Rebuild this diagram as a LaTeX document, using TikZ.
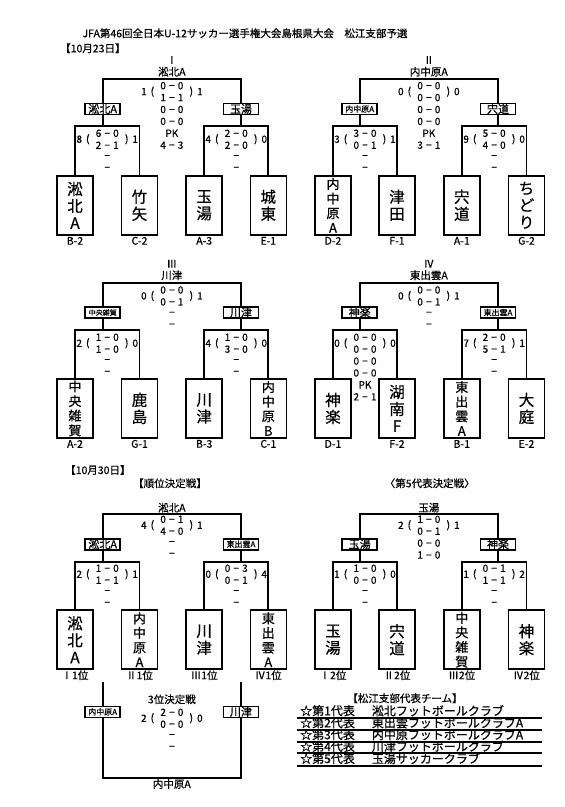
\documentclass[tikz,border=0pt]{standalone}
\usepackage{fontspec}
\setmainfont{Noto Sans CJK JP}[UprightFeatures={FakeBold=0.6}]
\tikzset{
  br/.style={line width=1.7pt},
  sbox/.style={draw,line width=1.6pt,minimum width=35pt,minimum height=11pt,inner sep=0pt},
  sbig/.style={sbox,font=\fontsize{11}{12}\selectfont},
  ssm/.style={sbox,font=\fontsize{8}{9}\selectfont},
  sxs/.style={sbox,font=\fontsize{7}{8}\selectfont},
  teambox/.style={draw,line width=1.6pt,minimum width=36pt,minimum height=59pt,inner sep=0pt,align=center},
  t3/.style={teambox,font=\fontsize{15.5}{17}\selectfont},
  t4/.style={teambox,font=\fontsize{13}{14.6}\selectfont},
  sc/.style={font=\fontsize{10}{11}\selectfont,inner sep=0pt},
  lab/.style={font=\fontsize{10.5}{11}\selectfont,inner sep=0pt},
  head/.style={font=\fontsize{10.5}{12}\selectfont,inner sep=0pt},
  rep/.style={font=\fontsize{12}{13}\selectfont,inner sep=0pt,anchor=west},
  tl/.style={line width=1.8pt},
}
\newcommand{\dd}[2]{\hbox to 23pt{#1\hfil−\hfil#2}}
\newcommand{\mn}{−}
\newcommand{\Team}[6]{%
  \node[#4] (#1) at (#2,#3) {#5};
  \node[lab] (#1l) at (#2,#3+35.5) {#6};}
\newcommand{\Score}[6]{%
  \foreach \r [count=\i from 0] in {#6} {\node[sc] (#1-\i) at (#2,{#3+\i*11.9}) {\r};}
  \node[sc] (#1-l) at (#2-28,#3+5.9) {#4};
  \node[sc] (#1-lp) at (#2-19.5,#3+5.9) {(};
  \node[sc] (#1-rp) at (#2+19.5,#3+5.9) {)};
  \node[sc] (#1-r) at (#2+28,#3+5.9) {#5};}
\begin{document}
\begin{tikzpicture}[x=1pt,y=-1pt]
\fill[white] (0,0) rectangle (565,807);
\useasboundingbox (0,0) rectangle (565,807);

\node[head] (title) at (245,33.3) {JFA第46回全日本U-12サッカー選手権大会島根県大会　松江支部予選};
\node[head,anchor=west] (d1) at (60,48.3) {【10月23日】};

% ---------- Group I ----------
\coordinate (g1w) at (171.85,79);
\node[sbig] (g1a) at (102.7,109) {淞北A};
\node[sbig] (g1b) at (241,109) {玉湯};
\Team{g1t1}{75}{205.3}{t3}{淞\\北\\A}{B-2}
\Team{g1t2}{139.5}{205.3}{t3}{竹\\矢}{C-2}
\Team{g1t3}{204.2}{205.3}{t3}{玉\\湯}{A-3}
\Team{g1t4}{268.3}{205.3}{t3}{城\\東}{E-1}
\coordinate (g1la) at (107.25,126);
\coordinate (g1lb) at (236.25,126);
\draw[br] (g1a.north) |- (g1w) -| (g1b.north);
\draw[br] (g1t1.north) |- (g1la) -| (g1t2.north);
\draw[br] (g1t3.north) |- (g1lb) -| (g1t4.north);
\draw[br] (g1a.south) -- (g1a.south |- g1la);
\draw[br] (g1b.south) -- (g1b.south |- g1lb);
\node[head] (g1n) at (171.85,60) {Ⅰ};
\node[head] (g1v) at (171.85,71.7) {淞北A};
\Score{g1s}{171.85}{85.7}{1}{1}{\dd00,\dd11,\dd00,\dd00,PK,\dd43}
\Score{g1p}{107.25}{133.3}{8}{1}{\dd60,\dd21,\mn,\mn}
\Score{g1q}{236.25}{133.3}{4}{0}{\dd20,\dd20,\mn,\mn}

% ---------- Group II ----------
\coordinate (g2w) at (428.85,79);
\node[ssm] (g2a) at (359.7,109) {内中原A};
\node[sbig] (g2b) at (498,109) {宍道};
\Team{g2t1}{333}{205.3}{t4}{内\\中\\原\\A}{D-2}
\Team{g2t2}{397}{205.3}{t3}{津\\田}{F-1}
\Team{g2t3}{461.8}{205.3}{t3}{宍\\道}{A-1}
\Team{g2t4}{526.5}{205.3}{t3}{ち\\ど\\り}{G-2}
\coordinate (g2la) at (365,126);
\coordinate (g2lb) at (494.15,126);
\draw[br] (g2a.north) |- (g2w) -| (g2b.north);
\draw[br] (g2t1.north) |- (g2la) -| (g2t2.north);
\draw[br] (g2t3.north) |- (g2lb) -| (g2t4.north);
\draw[br] (g2a.south) -- (g2a.south |- g2la);
\draw[br] (g2b.south) -- (g2b.south |- g2lb);
\node[head] (g2n) at (428.85,60) {Ⅱ};
\node[head] (g2v) at (428.85,71.7) {内中原A};
\Score{g2s}{428.85}{85.7}{0}{0}{\dd00,\dd00,\dd00,\dd00,PK,\dd31}
\Score{g2p}{365}{133.3}{3}{1}{\dd30,\dd01,\mn,\mn}
\Score{g2q}{494.15}{133.3}{9}{0}{\dd50,\dd40,\mn,\mn}

% ---------- Group III ----------
\coordinate (g3w) at (171.85,282.7);
\node[sxs] (g3a) at (102.7,312.5) {中央雑賀};
\node[sbig] (g3b) at (241,312.5) {川津};
\Team{g3t1}{75}{408.4}{t4}{中\\央\\雑\\賀}{A-2}
\Team{g3t2}{139.5}{408.4}{t3}{鹿\\島}{G-1}
\Team{g3t3}{204.2}{408.4}{t3}{川\\津}{B-3}
\Team{g3t4}{268.3}{408.4}{t4}{内\\中\\原\\B}{C-1}
\coordinate (g3la) at (107.25,330);
\coordinate (g3lb) at (236.25,330);
\draw[br] (g3a.north) |- (g3w) -| (g3b.north);
\draw[br] (g3t1.north) |- (g3la) -| (g3t2.north);
\draw[br] (g3t3.north) |- (g3lb) -| (g3t4.north);
\draw[br] (g3a.south) -- (g3a.south |- g3la);
\draw[br] (g3b.south) -- (g3b.south |- g3lb);
\node[head] (g3n) at (171.85,263.7) {Ⅲ};
\node[head] (g3v) at (171.85,275.3) {川津};
\Score{g3s}{171.85}{290}{0}{1}{\dd00,\dd01,\mn,\mn}
\Score{g3p}{107.25}{337.3}{2}{0}{\dd10,\dd10,\mn,\mn}
\Score{g3q}{236.25}{337.3}{4}{0}{\dd10,\dd30,\mn,\mn}

% ---------- Group IV ----------
\coordinate (g4w) at (428.85,282.7);
\node[sbig] (g4a) at (359.7,312.5) {神楽};
\node[ssm] (g4b) at (498,312.5) {東出雲A};
\Team{g4t1}{333}{408.4}{t3}{神\\楽}{D-1}
\Team{g4t2}{397}{408.4}{t3}{湖\\南\\F}{F-2}
\Team{g4t3}{461.8}{408.4}{t4}{東\\出\\雲\\A}{B-1}
\Team{g4t4}{526.5}{408.4}{t3}{大\\庭}{E-2}
\coordinate (g4la) at (365,330);
\coordinate (g4lb) at (494.15,330);
\draw[br] (g4a.north) |- (g4w) -| (g4b.north);
\draw[br] (g4t1.north) |- (g4la) -| (g4t2.north);
\draw[br] (g4t3.north) |- (g4lb) -| (g4t4.north);
\draw[br] (g4a.south) -- (g4a.south |- g4la);
\draw[br] (g4b.south) -- (g4b.south |- g4lb);
\node[head] (g4n) at (428.85,263.7) {Ⅳ};
\node[head] (g4v) at (428.85,275.3) {東出雲A};
\Score{g4s}{428.85}{290}{0}{1}{\dd00,\dd01,\mn,\mn}
\Score{g4p}{365}{337.3}{0}{0}{\dd00,\dd00,\dd00,\dd00,PK,\dd21}
\Score{g4q}{494.15}{337.3}{7}{1}{\dd20,\dd51,\mn,\mn}

% ---------- 10/30 ----------
\node[head,anchor=west] (d2) at (65,470) {【10月30日】};
\node[head] (h1) at (170,483.3) {【順位決定戦】};
\node[head] (h2) at (429.7,483.3) {〈第5代表決定戦〉};

% ranking
\coordinate (g5w) at (171.85,514.3);
\node[sbig] (g5a) at (102.7,544.2) {淞北A};
\node[ssm] (g5b) at (241,544.2) {東出雲A};
\Team{g5t1}{75}{639.7}{t3}{淞\\北\\A}{Ⅰ1位}
\Team{g5t2}{139.5}{639.7}{t4}{内\\中\\原\\A}{Ⅱ1位}
\Team{g5t3}{204.2}{639.7}{t3}{川\\津}{Ⅲ1位}
\Team{g5t4}{268.3}{639.7}{t4}{東\\出\\雲\\A}{Ⅳ1位}
\coordinate (g5la) at (107.25,561.7);
\coordinate (g5lb) at (236.25,561.7);
\draw[br] (g5a.north) |- (g5w) -| (g5b.north);
\draw[br] (g5t1.north) |- (g5la) -| (g5t2.north);
\draw[br] (g5t3.north) |- (g5lb) -| (g5t4.north);
\draw[br] (g5a.south) -- (g5a.south |- g5la);
\draw[br] (g5b.south) -- (g5b.south |- g5lb);
\node[head] (g5v) at (171.85,507.7) {淞北A};
\Score{g5s}{171.85}{519.3}{4}{1}{\dd01,\dd40,\mn,\mn}
\Score{g5p}{107.25}{568.3}{2}{1}{\dd10,\dd11,\mn,\mn}
\Score{g5q}{236.25}{568.3}{0}{4}{\dd03,\dd01,\mn,\mn}

% 5th representative
\coordinate (g6w) at (428.85,514.3);
\node[sbig] (g6a) at (359.7,544.2) {玉湯};
\node[sbig] (g6b) at (498,544.2) {神楽};
\Team{g6t1}{333}{639.7}{t3}{玉\\湯}{Ⅰ2位}
\Team{g6t2}{397}{639.7}{t3}{宍\\道}{Ⅱ2位}
\Team{g6t3}{461.8}{639.7}{t4}{中\\央\\雑\\賀}{Ⅲ2位}
\Team{g6t4}{526.5}{639.7}{t3}{神\\楽}{Ⅳ2位}
\coordinate (g6la) at (365,561.7);
\coordinate (g6lb) at (494.15,561.7);
\draw[br] (g6a.north) |- (g6w) -| (g6b.north);
\draw[br] (g6t1.north) |- (g6la) -| (g6t2.north);
\draw[br] (g6t3.north) |- (g6lb) -| (g6t4.north);
\draw[br] (g6a.south) -- (g6a.south |- g6la);
\draw[br] (g6b.south) -- (g6b.south |- g6lb);
\node[head] (g6v) at (428.85,507.7) {玉湯};
\Score{g6s}{428.85}{519.3}{2}{1}{\dd10,\dd01,\dd00,\dd10}
\Score{g6p}{365}{568.3}{1}{0}{\dd10,\dd00,\mn,\mn}
\Score{g6q}{494.15}{568.3}{1}{2}{\dd01,\dd11,\mn,\mn}

% 3rd place
\coordinate (p3ta) at (102.7,681.7);
\coordinate (p3tb) at (241,681.7);
\coordinate (p3w) at (171.85,777.7);
\node[ssm] (p3a) at (102.7,711.8) {内中原A};
\node[sbig] (p3b) at (241,711.8) {川津};
\draw[br] (p3ta) -- (p3a.north);
\draw[br] (p3tb) -- (p3b.north);
\draw[br] (p3a.south) |- (p3w) -| (p3b.south);
\node[head] (p3h) at (171.85,699.3) {3位決定戦};
\Score{p3s}{171.85}{712.3}{2}{0}{\dd20,\dd00,\mn,\mn}
\node[head] (p3v) at (171.85,784) {内中原A};

% representatives
\node[head] (rh) at (405,698.3) {【松江支部代表チーム】};
\node[rep] (r1a) at (300,710.7) {☆第1代表};
\node[rep] (r1b) at (371.7,710.7) {淞北フットボールクラブ};
\node[rep] (r2a) at (300,722.8) {☆第2代表};
\node[rep] (r2b) at (371.7,722.8) {東出雲フットボールクラブA};
\node[rep] (r3a) at (300,734.6) {☆第3代表};
\node[rep] (r3b) at (371.7,734.6) {内中原フットボールクラブA};
\node[rep] (r4a) at (300,746.4) {☆第4代表};
\node[rep] (r4b) at (371.7,746.4) {川津フットボールクラブ};
\node[rep] (r5a) at (300,758.5) {☆第5代表};
\node[rep] (r5b) at (371.7,758.5) {玉湯サッカークラブ};
\foreach \yy in {718.3,730,741.7,753.3,766} {\draw[tl] (297,\yy) -- (541.5,\yy);}
\end{tikzpicture}
\end{document}
